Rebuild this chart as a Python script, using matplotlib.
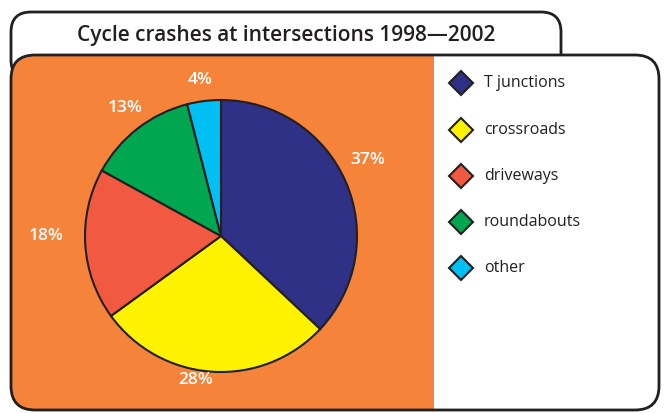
import matplotlib.pyplot as plt
from matplotlib.patches import FancyBboxPatch, Rectangle

# data
categories = ["T junctions", "crossroads", "driveways", "roundabouts", "other"]
shares = [37, 28, 18, 13, 4]
labels = ["37%", "28%", "18%", "13%", "4%"]
colors = ["#2e3185", "#fff200", "#f15a40", "#00a650", "#00bff3"]

H = 413
fig = plt.figure(figsize=(6.67, 4.13), dpi=100)
ax = fig.add_axes([0, 0, 1, 1])
ax.set_xlim(0, 667)
ax.set_ylim(0, H)
ax.set_aspect("equal")
ax.axis("off")

font = ["Open Sans", "DejaVu Sans"]

# title box (behind)
tbox = FancyBboxPatch((11, H - 80), 550, 68, boxstyle="round,pad=0,rounding_size=20",
                      fc="white", ec="#231f20", lw=2, zorder=1)
ax.add_patch(tbox)
ax.text(286, H - 35, "Cycle crashes at intersections 1998\u20142002", ha="center", va="center",
        fontsize=15, fontweight="semibold", color="#231f20", family=font, zorder=2)

# main box
mbox = FancyBboxPatch((11, 3), 648, H - 58, boxstyle="round,pad=0,rounding_size=24",
                      fc="white", ec="none", zorder=3)
ax.add_patch(mbox)
orange = Rectangle((0, 0), 434, H, fc="#f5843a", ec="none", zorder=4)
ax.add_patch(orange)
orange.set_clip_path(mbox)
border = FancyBboxPatch((11, 3), 648, H - 58, boxstyle="round,pad=0,rounding_size=24",
                        fc="none", ec="#231f20", lw=2, zorder=10)
ax.add_patch(border)

# pie
wedges, _ = ax.pie(shares, colors=colors, startangle=90, counterclock=False,
                   center=(221, H - 236), radius=136, frame=True,
                   wedgeprops=dict(ec="#231f20", lw=1.5))
for w in wedges:
    w.set_zorder(6)
ax.set_xlim(0, 667)
ax.set_ylim(0, H)
ax.axis("off")

label_pos = [(368, 160), (196, 380), (46, 236), (125, 108), (200, 80)]
for lab, (x, y) in zip(labels, label_pos):
    ax.text(x, H - y, lab, ha="center", va="center", fontsize=12.5, fontweight="semibold",
            color="white", family=font, zorder=7)

# legend
leg_y = [83, 130, 176, 222, 268]
for cat, c, y in zip(categories, colors, leg_y):
    ax.plot(461, H - y, marker="D", markersize=12, mfc=c, mec="#231f20", mew=1.5, zorder=8)
    ax.text(484, H - y, cat, ha="left", va="center", fontsize=11.5, fontweight="medium",
            color="#231f20", family=font, zorder=8)

fig.savefig("out.png", dpi=100)
